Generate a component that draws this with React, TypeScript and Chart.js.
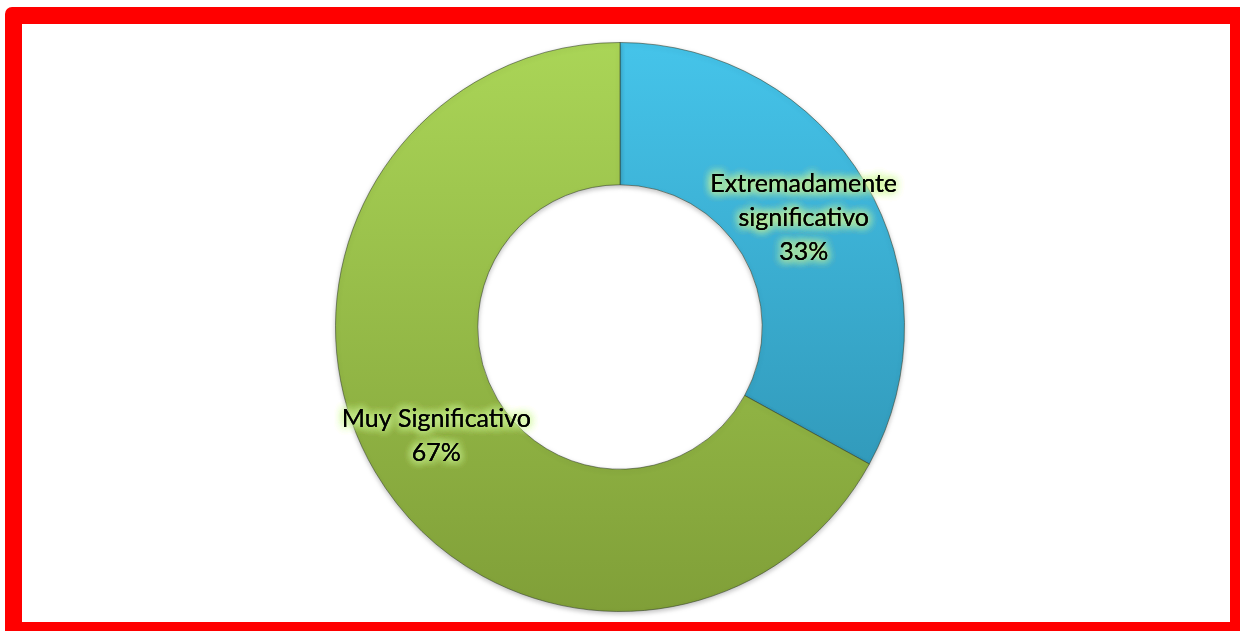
import React, { useEffect, useRef } from "react";
import { Chart, registerables } from "chart.js";

Chart.register(...registerables);

const categories = ["Extremadamente significativo", "Muy Significativo"];
const labelLines = [["Extremadamente", "significativo", "33%"], ["Muy Significativo", "67%"]];
const values = [33, 67];
const topColors = ["#45c4ea", "#aad557"];
const bottomColors = ["#2b8cab", "#809f38"];

const labelPlugin = {
  id: "sliceLabels",
  afterDatasetsDraw(chart: any) {
    const ctx = chart.ctx;
    const meta = chart.getDatasetMeta(0);
    ctx.save();
    ctx.font = "25px Lato";
    ctx.textAlign = "center";
    ctx.textBaseline = "middle";
    const lh = 34;
    meta.data.forEach((arc: any, i: number) => {
      const p = arc.tooltipPosition();
      const lines = labelLines[i];
      const startY = p.y - ((lines.length - 1) * lh) / 2;
      lines.forEach((t: string, k: number) => {
        const y = startY + k * lh;
        ctx.shadowColor = "rgba(205,245,150,1)";
        ctx.shadowBlur = 10;
        ctx.fillStyle = "#000";
        for (let r = 0; r < 4; r++) ctx.fillText(t, p.x, y);
      });
    });
    ctx.restore();
  },
};

const shadowPlugin = {
  id: "ringShadow",
  beforeDatasetsDraw(chart: any) {
    const ctx = chart.ctx;
    ctx.save();
    ctx.shadowColor = "rgba(0,0,0,0.25)";
    ctx.shadowBlur = 5;
    ctx.shadowOffsetY = 2;
  },
  afterDatasetsDraw(chart: any) {
    chart.ctx.restore();
  },
};

export default function App() {
  const ref = useRef<HTMLCanvasElement>(null);
  useEffect(() => {
    if (!ref.current) return;
    const chart = new Chart(ref.current, {
      type: "doughnut",
      data: {
        labels: categories,
        datasets: [
          {
            data: values,
            backgroundColor: (c: any) => {
              const ca = c.chart.chartArea;
              if (!ca) return topColors[c.dataIndex];
              const g = c.chart.ctx.createLinearGradient(0, ca.top, 0, ca.bottom);
              g.addColorStop(0, topColors[c.dataIndex]);
              g.addColorStop(1, bottomColors[c.dataIndex]);
              return g;
            },
            borderColor: "rgba(50,60,40,0.55)",
            borderWidth: 1,
          },
        ],
      },
      options: {
        animation: false,
        responsive: false,
        cutout: "50%",
        layout: { padding: { top: 42, bottom: 19, left: 0, right: 0 } },
        plugins: { legend: { display: false }, tooltip: { enabled: false } },
      },
      plugins: [shadowPlugin, labelPlugin],
    });
    return () => chart.destroy();
  }, []);
  return (
    <div style={{ position: "fixed", left: 0, top: 0, width: 1240, height: 631, overflow: "hidden", background: "#fff" }}>
      <div
        style={{
          position: "absolute",
          left: 5,
          top: 7,
          width: 1242,
          height: 632,
          border: "17px solid #ff0000",
          borderRadius: 7,
          boxSizing: "border-box",
        }}
      />
      <canvas ref={ref} width={1240} height={631} style={{ position: "absolute", left: 0, top: 0 }} />
    </div>
  );
}
